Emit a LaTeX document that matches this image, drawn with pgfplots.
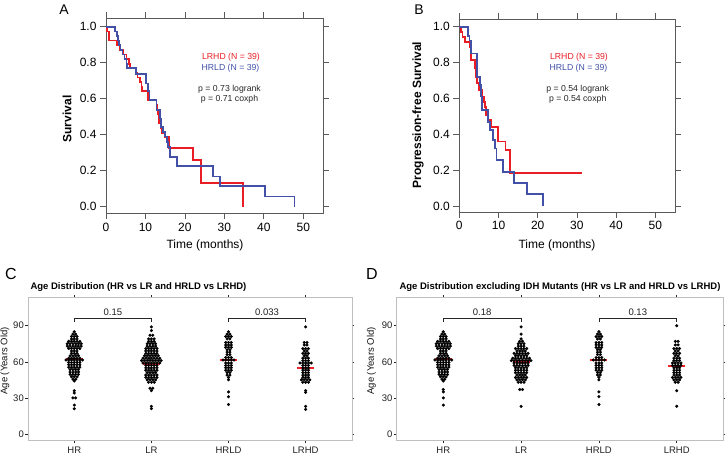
\documentclass[border=0pt]{standalone}
\usepackage{pgfplots}
\pgfplotsset{compat=1.18}
\usepackage{pgfplotstable}
\usepackage{fontspec}
\setmainfont{Liberation Sans}
\definecolor{kmred}{RGB}{232,30,36}
\definecolor{kmblue}{RGB}{66,80,168}
\definecolor{medred}{RGB}{236,36,40}

% beeswarm dots: k = horizontal offset in dot widths, a = age
\pgfplotstableread[row sep=\\]{k a\\
0 85\\ -0.5 83\\ 0.5 83\\ -1 81\\ 0 81\\ 1 81\\ -1 79\\ 0 79\\ 1 79\\
-2 77\\ -1 77\\ 0 77\\ 1 77\\ 2 77\\
-2.5 75\\ -1.5 75\\ -0.5 75\\ 0.5 75\\ 1.5 75\\ 2.5 75\\
-2.5 73\\ -1.5 73\\ -0.5 73\\ 0.5 73\\ 1.5 73\\ 2.5 73\\
-2 71\\ -1 71\\ 0 71\\ 1 71\\ 2 71\\
-1 69\\ 0 69\\ 1 69\\ -1 67\\ 0 67\\ 1 67\\
-1.5 65\\ -0.5 65\\ 0.5 65\\ 1.5 65\\
-2 63\\ -1 63\\ 0 63\\ 1 63\\ 2 63\\
-3 61.5\\ -2 61.5\\ -1 61.5\\ 0 61.5\\ 1 61.5\\ 2 61.5\\ 3 61.5\\
-2 59.5\\ -1 59.5\\ 0 59.5\\ 1 59.5\\ 2 59.5\\
-2 57.5\\ -1 57.5\\ 0 57.5\\ 1 57.5\\ 2 57.5\\
-2 55.5\\ -1 55.5\\ 0 55.5\\ 1 55.5\\ 2 55.5\\
-1.5 53.5\\ -0.5 53.5\\ 0.5 53.5\\ 1.5 53.5\\
-1.5 51.5\\ -0.5 51.5\\ 0.5 51.5\\ 1.5 51.5\\
-1.5 49.5\\ -0.5 49.5\\ 0.5 49.5\\ 1.5 49.5\\
-1 47.5\\ 0 47.5\\ 1 47.5\\ -0.5 45.5\\ 0.5 45.5\\ 0 44\\
}\HRtop
\pgfplotstableread[row sep=\\]{k a\\
0 36\\ 0 34\\ -0.5 30\\ 0.5 30\\ 0 24\\ 0 21\\
}\HRlowC
\pgfplotstableread[row sep=\\]{k a\\
0 37\\ 0 35\\ 0 30\\ 0 24\\
}\HRlowD
\pgfplotstableread[row sep=\\]{k a\\
0 89\\ 0 86\\ -0.5 82\\ 0.5 82\\ -1 79\\ 0 79\\ 1 79\\ -1 77\\ 0 77\\ 1 77\\
-1.5 75\\ -0.5 75\\ 0.5 75\\ 1.5 75\\ -1.5 73\\ -0.5 73\\ 0.5 73\\ 1.5 73\\
-2 71\\ -1 71\\ 0 71\\ 1 71\\ 2 71\\ -2 69\\ -1 69\\ 0 69\\ 1 69\\ 2 69\\
-2 67\\ -1 67\\ 0 67\\ 1 67\\ 2 67\\
-2.5 65\\ -1.5 65\\ -0.5 65\\ 0.5 65\\ 1.5 65\\ 2.5 65\\
-3 63\\ -2 63\\ -1 63\\ 0 63\\ 1 63\\ 2 63\\ 3 63\\
-3.5 61\\ -2.5 61\\ -1.5 61\\ -0.5 61\\ 0.5 61\\ 1.5 61\\ 2.5 61\\ 3.5 61\\
-3 59\\ -2 59\\ -1 59\\ 0 59\\ 1 59\\ 2 59\\ 3 59\\
-2 57\\ -1 57\\ 0 57\\ 1 57\\ 2 57\\ -2 55\\ -1 55\\ 0 55\\ 1 55\\ 2 55\\
-2 53\\ -1 53\\ 0 53\\ 1 53\\ 2 53\\ -1.5 51\\ -0.5 51\\ 0.5 51\\ 1.5 51\\
-2 49\\ -1 49\\ 0 49\\ 1 49\\ 2 49\\ -2 47\\ -1 47\\ 0 47\\ 1 47\\ 2 47\\
-1.5 45\\ -0.5 45\\ 0.5 45\\ 1.5 45\\ -1 43\\ 0 43\\ 1 43\\
-0.5 38\\ 0.5 38\\ 0 36\\ 0 23\\ 0 21\\
}\LRc
\pgfplotstableread[row sep=\\]{k a\\
0 89\\ 0 83\\ 0 79\\ -0.5 77\\ 0.5 77\\ -1 75\\ 0 75\\ 1 75\\ -1 73\\ 0 73\\ 1 73\\
-2 71\\ -1 71\\ 0 71\\ 1 71\\ 2 71\\ -1.5 69\\ -0.5 69\\ 0.5 69\\ 1.5 69\\
-2.5 67\\ -1.5 67\\ -0.5 67\\ 0.5 67\\ 1.5 67\\ 2.5 67\\
-2 65\\ -1 65\\ 0 65\\ 1 65\\ 2 65\\
-3 63\\ -2 63\\ -1 63\\ 0 63\\ 1 63\\ 2 63\\ 3 63\\
-3.5 61\\ -2.5 61\\ -1.5 61\\ -0.5 61\\ 0.5 61\\ 1.5 61\\ 2.5 61\\ 3.5 61\\
-2.5 59\\ -1.5 59\\ -0.5 59\\ 0.5 59\\ 1.5 59\\ 2.5 59\\
-2.5 57\\ -1.5 57\\ -0.5 57\\ 0.5 57\\ 1.5 57\\ 2.5 57\\
-2 55\\ -1 55\\ 0 55\\ 1 55\\ 2 55\\ -2 53\\ -1 53\\ 0 53\\ 1 53\\ 2 53\\
-2 51\\ -1 51\\ 0 51\\ 1 51\\ 2 51\\ -1.5 49\\ -0.5 49\\ 0.5 49\\ 1.5 49\\
-2 47\\ -1 47\\ 0 47\\ 1 47\\ 2 47\\ -1.5 45\\ -0.5 45\\ 0.5 45\\ 1.5 45\\
-1 43\\ 0 43\\ 1 43\\ -0.5 37\\ 0.5 37\\ 0 23\\
}\LRd
\pgfplotstableread[row sep=\\]{k a\\
0 85\\ -0.5 83\\ 0.5 83\\ -1 81\\ 0 81\\ 1 81\\ -0.5 79\\ 0.5 79\\
-1 76\\ 0 76\\ 1 76\\ -1 74\\ 0 74\\ 1 74\\ -1 72\\ 0 72\\ 1 72\\
-0.5 70\\ 0.5 70\\ -0.5 68\\ 0.5 68\\ -0.5 66\\ 0.5 66\\
-1 63.5\\ 0 63.5\\ 1 63.5\\ -2 61.5\\ -1 61.5\\ 0 61.5\\ 1 61.5\\ 2 61.5\\
-1 59\\ 0 59\\ 1 59\\ -1 57\\ 0 57\\ 1 57\\ -1 55\\ 0 55\\ 1 55\\ -1 53\\ 0 53\\ 1 53\\
-0.5 51\\ 0.5 51\\ -0.5 49\\ 0.5 49\\ 0 47\\ 0 45\\ 0 35\\ 0 31\\ 0 24.5\\
}\HRLD
\pgfplotstableread[row sep=\\]{k a\\
0 89\\ -0.5 76\\ 0.5 76\\ -0.5 74\\ 0.5 74\\ -1 71\\ 0 71\\ 1 71\\ -0.5 69\\ 0.5 69\\
-1 67\\ 0 67\\ 1 67\\ -0.5 65\\ 0.5 65\\ -1 63\\ 0 63\\ 1 63\\ -1 61\\ 0 61\\ 1 61\\
-2 59\\ -1 59\\ 0 59\\ 1 59\\ 2 59\\ -1 57\\ 0 57\\ 1 57\\ -1 55\\ 0 55\\ 1 55\\
-1 53\\ 0 53\\ 1 53\\ -1 51\\ 0 51\\ 1 51\\ -1 49\\ 0 49\\ 1 49\\ -1 47\\ 0 47\\ 1 47\\
-1.5 45\\ -0.5 45\\ 0.5 45\\ 1.5 45\\ -1 43\\ 0 43\\ 1 43\\
0 36\\ 0 34.5\\ 0 23\\ 0 20.5\\
}\LRHDc
\pgfplotstableread[row sep=\\]{k a\\
0 90\\ -0.5 77\\ 0.5 77\\ -0.5 74\\ 0.5 74\\ -1 71\\ 0 71\\ 1 71\\ -0.5 69\\ 0.5 69\\
-1 67\\ 0 67\\ 1 67\\ -0.5 65\\ 0.5 65\\ -1 63\\ 0 63\\ 1 63\\ -1 61\\ 0 61\\ 1 61\\
-1.5 59\\ -0.5 59\\ 0.5 59\\ 1.5 59\\ -1.5 57\\ -0.5 57\\ 0.5 57\\ 1.5 57\\
-1 55\\ 0 55\\ 1 55\\ -1 53\\ 0 53\\ 1 53\\ -1 51\\ 0 51\\ 1 51\\ -1 49\\ 0 49\\ 1 49\\
-1.5 47\\ -0.5 47\\ 0.5 47\\ 1.5 47\\ -1 45\\ 0 45\\ 1 45\\ -0.5 43\\ 0.5 43\\
0 36\\ 0 23\\
}\LRHDd

\pgfplotsset{
  km/.style={scale only axis, xmin=0, xmax=55,
    axis line style={gray!70!black, line width=0.8pt},
    tick style={gray!70!black, line width=0.8pt},
    tick align=outside, major tick length=6pt,
    xtick={0,10,20,30,40,50}, ytick={0,0.2,0.4,0.6,0.8,1.0},
    yticklabel style={/pgf/number format/.cd, fixed, fixed zerofill, precision=1},
    ticklabel style={font=\fontsize{12}{14}\selectfont},
    /pgf/number format/assume math mode=true},
  age/.style={scale only axis, xmin=0.4, xmax=4.6, ymin=-5.57, ymax=113.6,
    axis line style={gray!50, line width=0.7pt},
    tick style={gray!30!black, line width=0.5pt},
    tick align=outside, major tick length=2.5pt,
    xtick={1,2,3,4}, xticklabels={HR,LR,HRLD,LRHD}, ytick={0,30,60,90},
    ticklabel style={font=\fontsize{9.5}{11}\selectfont, text=gray!25!black},
    yticklabel style={inner sep=1.5pt},
    /pgf/number format/assume math mode=true},
  dots/.style={only marks, mark=*, mark size=1.35pt, mark options={fill=black, draw=none}},
}

\begin{document}
\begin{tikzpicture}[x=1pt,y=1pt]
\path[use as bounding box] (0,0) rectangle (725,457);

% ---------------- Panel A
\begin{axis}[km, at={(106pt,243.7pt)}, anchor=south west, width=217pt, height=195pt,
  ymin=-0.037, ymax=1.047]
\addplot[kmred, line width=1.8pt, const plot] coordinates {
(0,1)(0.35,0.974)(0.85,0.923)(2.8,0.897)(3.4,0.872)(4.3,0.846)(5.2,0.821)(5.8,0.795)
(6.0,0.769)(7.6,0.744)(8.0,0.718)(8.6,0.692)(9.0,0.667)(9.2,0.645)(10.7,0.595)
(12.8,0.564)(13.0,0.538)(13.2,0.513)(13.3,0.487)(13.5,0.462)(13.9,0.436)(14.2,0.41)
(15.0,0.385)(16.0,0.324)(22.1,0.26)(24.05,0.133)(34.7,0.133)(34.7,0)};
\addplot[kmblue, line width=1.8pt, const plot] coordinates {
(0,1)(2.3,0.974)(2.8,0.949)(3.0,0.923)(3.3,0.897)(3.7,0.872)(4.2,0.846)(4.7,0.821)
(5.2,0.795)(5.4,0.769)(7.6,0.737)(10.1,0.685)(10.7,0.645)(11.0,0.593)(12.8,0.537)
(13.7,0.49)(14.0,0.444)(14.5,0.417)(15.0,0.39)(15.4,0.36)(15.8,0.333)(16.2,0.278)
(17.9,0.226)(27.2,0.167)(28.9,0.115)(40.4,0.056)(47.8,0.056)(47.8,0)};
\end{axis}
\node[font=\fontsize{14}{16}\selectfont] at (64,447) {A};
\node[rotate=90, font=\bfseries\fontsize{12}{14}\selectfont] at (67,338) {Survival};
\node[font=\fontsize{12}{14}\selectfont] at (205,212) {Time (months)};
\begin{scope}[font=\fontsize{8.7}{10}\selectfont]
\node[text=kmred] at (231,399.3) {LRHD (N = 39)};
\node[text=kmblue] at (230.5,388.7) {HRLD (N = 39)};
\node[text=black!85] at (229.5,367.7) {p = 0.73 logrank};
\node[text=black!85] at (229.5,357.7) {p = 0.71 coxph};
\end{scope}

% ---------------- Panel B
\begin{axis}[km, at={(459.3pt,245pt)}, anchor=south west, width=215.6pt, height=193pt,
  ymin=-0.034, ymax=1.043]
\addplot[kmred, line width=1.8pt, const plot] coordinates {
(0,1)(0.4,0.972)(0.8,0.944)(1.45,0.914)(2.75,0.888)(2.95,0.814)(4.0,0.77)(4.2,0.72)
(4.6,0.684)(5.0,0.647)(5.7,0.61)(6.2,0.58)(6.6,0.554)(6.8,0.506)(7.4,0.48)(8.1,0.442)
(9.95,0.359)(11.8,0.312)(12.9,0.182)(31.4,0.182)};
\addplot[kmblue, line width=1.8pt, const plot] coordinates {
(0,1)(2.3,0.949)(2.6,0.923)(2.9,0.85)(4.6,0.72)(5.3,0.675)(5.5,0.61)(5.8,0.535)
(7.4,0.47)(7.8,0.424)(8.5,0.368)(9.1,0.32)(9.5,0.256)(11.05,0.19)(14.0,0.13)
(17.35,0.067)(21.4,0.067)(21.4,0)};
\end{axis}
\node[font=\fontsize{14}{16}\selectfont] at (419,447) {B};
\node[rotate=90, font=\bfseries\fontsize{12}{14}\selectfont] at (418,342) {Progression-free Survival};
\node[font=\fontsize{12}{14}\selectfont] at (557,212) {Time (months)};
\begin{scope}[font=\fontsize{8.7}{10}\selectfont]
\node[text=kmred] at (579,399.3) {LRHD (N = 39)};
\node[text=kmblue] at (578.5,388.7) {HRLD (N = 39)};
\node[text=black!85] at (577.7,367.7) {p = 0.54 logrank};
\node[text=black!85] at (577.7,357.7) {p = 0.54 coxph};
\end{scope}

% ---------------- Panel C
\begin{axis}[age, at={(28pt,16.3pt)}, anchor=south west, width=323.9pt, height=143.4pt]
\addplot[dots] table[x expr=1+0.036*\thisrow{k}, y=a] {\HRtop};
\addplot[dots] table[x expr=1+0.036*\thisrow{k}, y=a] {\HRlowC};
\addplot[dots] table[x expr=2+0.036*\thisrow{k}, y=a] {\LRc};
\addplot[dots] table[x expr=3+0.036*\thisrow{k}, y=a] {\HRLD};
\addplot[dots] table[x expr=4+0.036*\thisrow{k}, y=a] {\LRHDc};
\addplot[medred, line width=2pt] coordinates {(0.89,62.1)(1.11,62.1)};
\addplot[medred, line width=2pt] coordinates {(1.89,58.5)(2.11,58.5)};
\addplot[medred, line width=2pt] coordinates {(2.89,61.8)(3.11,61.8)};
\addplot[medred, line width=2pt] coordinates {(3.89,54.9)(4.11,54.9)};
\addplot[gray!30!black, line width=0.5pt] coordinates {(1,93.3)(1,96.2)(2,96.2)(2,93.3)};
\addplot[gray!30!black, line width=0.5pt] coordinates {(3,93.3)(3,96.2)(4,96.2)(4,93.3)};
\node[anchor=base, font=\fontsize{9.5}{11}\selectfont, text=gray!25!black] at (axis cs:1.5,98.6) {0.15};
\node[anchor=base, font=\fontsize{9.5}{11}\selectfont, text=gray!25!black] at (axis cs:3.5,98.6) {0.033};
\end{axis}
\node[font=\fontsize{16}{18}\selectfont] at (11,183) {C};
\node[anchor=west, font=\bfseries\fontsize{9.5}{11}\selectfont] at (27,169.7) {Age Distribution (HR vs LR and HRLD vs LRHD)};
\node[rotate=90, font=\fontsize{9.5}{11}\selectfont, text=gray!15!black] at (5,96) {Age (Years Old)};

% ---------------- Panel D
\begin{axis}[age, at={(396.6pt,16.3pt)}, anchor=south west, width=326.8pt, height=143.4pt]
\addplot[dots] table[x expr=1+0.036*\thisrow{k}, y=a] {\HRtop};
\addplot[dots] table[x expr=1+0.036*\thisrow{k}, y=a] {\HRlowD};
\addplot[dots] table[x expr=2+0.036*\thisrow{k}, y=a] {\LRd};
\addplot[dots] table[x expr=3+0.036*\thisrow{k}, y=a] {\HRLD};
\addplot[dots] table[x expr=4+0.036*\thisrow{k}, y=a] {\LRHDd};
\addplot[medred, line width=2pt] coordinates {(0.89,62.6)(1.11,62.6)};
\addplot[medred, line width=2pt] coordinates {(1.89,59.6)(2.11,59.6)};
\addplot[medred, line width=2pt] coordinates {(2.89,61.8)(3.11,61.8)};
\addplot[medred, line width=2pt] coordinates {(3.89,56.5)(4.11,56.5)};
\addplot[gray!30!black, line width=0.5pt] coordinates {(1,93.3)(1,96.2)(2,96.2)(2,93.3)};
\addplot[gray!30!black, line width=0.5pt] coordinates {(3,93.3)(3,96.2)(4,96.2)(4,93.3)};
\node[anchor=base, font=\fontsize{9.5}{11}\selectfont, text=gray!25!black] at (axis cs:1.5,98.6) {0.18};
\node[anchor=base, font=\fontsize{9.5}{11}\selectfont, text=gray!25!black] at (axis cs:3.5,98.6) {0.13};
\end{axis}
\node[font=\fontsize{16}{18}\selectfont] at (372,183) {D};
\node[anchor=west, font=\bfseries\fontsize{9.5}{11}\selectfont] at (396,169.7) {Age Distribution excluding IDH Mutants (HR vs LR and HRLD vs LRHD)};
\node[rotate=90, font=\fontsize{9.5}{11}\selectfont, text=gray!15!black] at (371.5,96) {Age (Years Old)};
\end{tikzpicture}
\end{document}
